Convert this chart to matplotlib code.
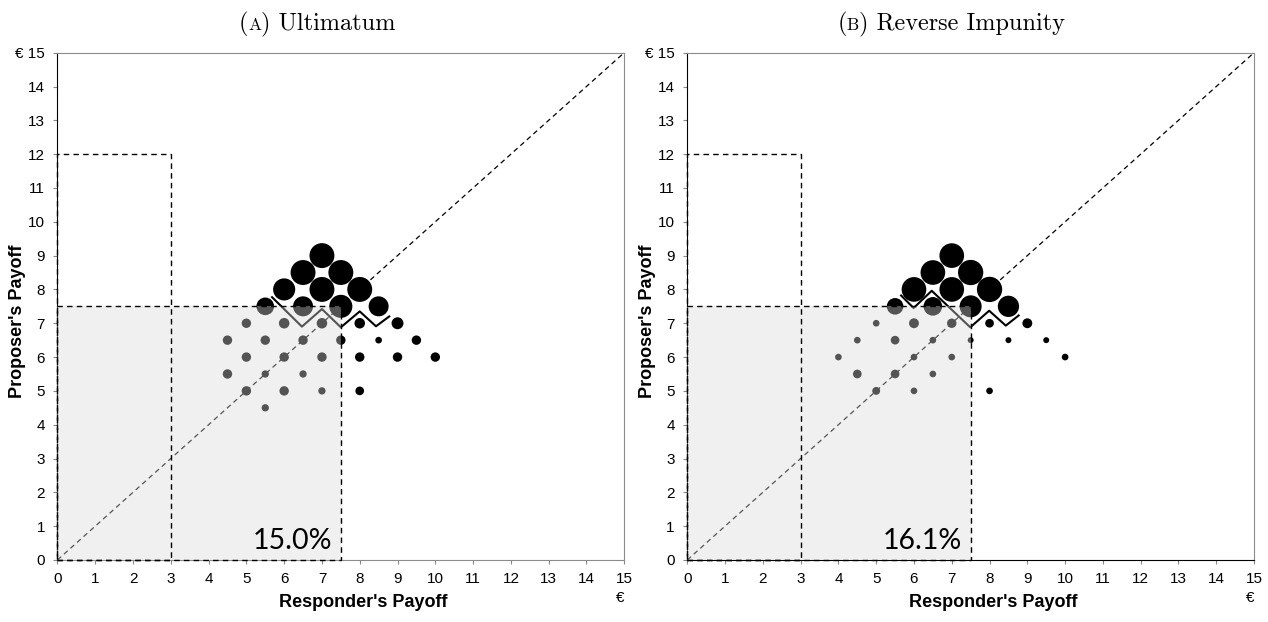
import numpy as np
import matplotlib.pyplot as plt
from matplotlib.patches import Rectangle
from matplotlib.offsetbox import TextArea, HPacker, AnchoredOffsetbox

# Ultimatum: offers (responder payoff, proposer payoff) and relative frequency
ult_x = [7, 6.5, 7.5, 6, 7, 8, 5.5, 6.5, 7.5, 8.5,
         5, 6, 7, 8, 9,
         4.5, 5.5, 6.5, 7.5, 8.5, 9.5,
         5, 6, 7, 8, 9, 10,
         4.5, 5.5, 6.5,
         5, 6, 7, 8,
         5.5]
ult_y = [9, 8.5, 8.5, 8, 8, 8, 7.5, 7.5, 7.5, 7.5,
         7, 7, 7, 7, 7,
         6.5, 6.5, 6.5, 6.5, 6.5, 6.5,
         6, 6, 6, 6, 6, 6,
         5.5, 5.5, 5.5,
         5, 5, 5, 5,
         4.5]
ult_n = [14, 14, 14, 11, 14, 14, 7, 9, 12, 9,
         2, 2.5, 2.5, 2.5, 3.2,
         2, 2, 2, 2, 1, 2,
         2, 2, 2, 2, 2, 2,
         2, 1.2, 1.2,
         2, 2, 1.2, 1.7,
         1.2]

# Reverse Impunity
rev_x = [7, 6.5, 7.5, 6, 7, 8, 5.5, 6.5, 7.5, 8.5,
         5, 6, 7, 8, 9,
         4.5, 5.5, 6.5, 7.5, 8.5, 9.5,
         4, 6, 7, 10,
         4.5, 5.5, 6.5,
         5, 6, 8]
rev_y = [9, 8.5, 8.5, 8, 8, 8, 7.5, 7.5, 7.5, 7.5,
         7, 7, 7, 7, 7,
         6.5, 6.5, 6.5, 6.5, 6.5, 6.5,
         6, 6, 6, 6,
         5.5, 5.5, 5.5,
         5, 5, 5]
rev_n = [13.7, 13.7, 14.4, 13.7, 13.7, 14.4, 6.2, 7.8, 10.9, 10.2,
         1, 2.2, 2, 1.7, 2.2,
         1, 1.7, 1, 0.8, 0.8, 0.8,
         1, 1, 1, 1,
         1.7, 1.7, 1,
         1.4, 1, 1]

# zigzag separating the top group
ult_kink_x = [5.68, 6.47, 7.0, 7.5, 8.0, 8.43, 8.78]
ult_kink_y = [7.77, 6.9, 7.42, 6.88, 7.35, 6.91, 7.2]
rev_kink_x = [5.66, 5.99, 6.47, 7.49, 7.99, 8.43, 8.77]
rev_kink_y = [7.82, 7.45, 7.96, 6.88, 7.37, 6.93, 7.23]

ult_share = '15.0%'
rev_share = '16.1%'
cut = 7.5          # shaded square
rej_x, rej_y = 3, 12
ticks = list(range(16))

dash = (0, (4, 3))

fig = plt.figure(figsize=(12.68, 6.22), dpi=100)
ax1 = fig.add_axes([0.0453, 0.0997, 0.447, 0.8156])
ax2 = fig.add_axes([0.5420, 0.0997, 0.447, 0.8156])


def draw(ax, xs, ys, ns, kx, ky, share, bottom_color):
    ax.plot([0, 15], [0, 15], ls=dash, color='black', lw=0.9, zorder=1)
    ax.scatter(xs, ys, s=np.array(ns) * 23, color='black', linewidths=0, zorder=2)
    ax.plot(kx, ky, color='black', lw=1.5, zorder=3)
    ax.add_patch(Rectangle((0, 0), cut, cut, facecolor='#dadada', alpha=0.39,
                           edgecolor='none', zorder=4))
    ax.add_patch(Rectangle((0, 0), cut, cut, fill=False, edgecolor='black',
                           ls=dash, lw=1, zorder=5, clip_on=False))
    ax.add_patch(Rectangle((0, 0), rej_x, rej_y, fill=False, edgecolor='black',
                           ls=dash, lw=1, zorder=5, clip_on=False))
    ax.text(7.27, 0.33, share, ha='right', va='baseline', fontsize=20.5,
            family='Lato', zorder=6)

    ax.set_xlim(0, 15)
    ax.set_ylim(0, 15)
    ax.set_xticks(ticks)
    ax.set_xticklabels([str(t) for t in ticks])
    ax.set_yticks(ticks)
    ax.set_yticklabels([str(t) for t in ticks[:-1]] + ['€ 15'])
    ax.tick_params(direction='out', length=3, color='#888888', labelsize=11,
                   pad=6)
    for lab in ax.get_xticklabels() + ax.get_yticklabels():
        lab.set_family('Liberation Sans')
    ax.spines['left'].set_color('black')
    ax.spines['top'].set_color('#8c8c8c')
    ax.spines['right'].set_color('#8c8c8c')
    ax.spines['bottom'].set_color(bottom_color)

    ax.set_xlabel("Responder's Payoff", fontsize=13, fontweight='bold',
                  family='Liberation Sans')
    ax.xaxis.set_label_coords(0.54, -0.068)
    ax.set_ylabel("Proposer's Payoff", fontsize=13, fontweight='bold',
                  family='Liberation Sans')
    ax.yaxis.set_label_coords(-0.056, 0.47)
    ax.text(0.993, -0.075, '€', transform=ax.transAxes, ha='center',
            va='center', fontsize=11, family='Liberation Sans')


draw(ax1, ult_x, ult_y, ult_n, ult_kink_x, ult_kink_y, ult_share, '#8c8c8c')
draw(ax2, rev_x, rev_y, rev_n, rev_kink_x, rev_kink_y, rev_share, 'black')


def title(letter, rest, xpos):
    big = dict(family='cmr10', size=17.5)
    small = dict(family='cmr10', size=12.5)
    box = HPacker(children=[TextArea('(', textprops=big),
                            TextArea(letter, textprops=small),
                            TextArea(') ' + rest, textprops=big)],
                  align='baseline', pad=0, sep=0)
    anch = AnchoredOffsetbox(loc='center', child=box, pad=0, borderpad=0,
                             frameon=False, bbox_to_anchor=(xpos, 0.962),
                             bbox_transform=fig.transFigure)
    fig.add_artist(anch)


title('A', 'Ultimatum', 0.25)
title('B', 'Reverse Impunity', 0.75)

plt.savefig('out.png', dpi=100)
